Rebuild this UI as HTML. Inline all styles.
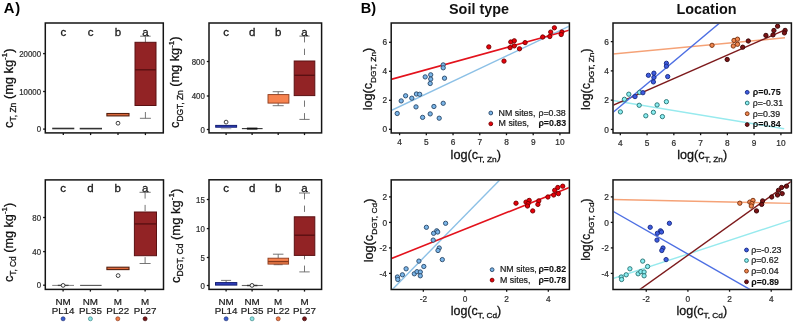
<!DOCTYPE html>
<html><head><meta charset="utf-8"><title>figure</title>
<style>
html,body{margin:0;padding:0;background:#fff;width:795px;height:323px;overflow:hidden;}
svg{display:block;will-change:transform;}
text{font-family:"Liberation Sans", sans-serif;}
</style></head><body>
<svg width="795" height="323" viewBox="0 0 795 323">
<rect width="795" height="323" fill="#fff"/>
<text transform="translate(3.77,12.8) scale(1.06,1)" font-size="14" font-weight="bold" fill="#000">A<tspan dx="0.75">)</tspan></text>
<text transform="translate(360.8,12.8) scale(1.04,1)" font-size="14" font-weight="bold" fill="#000">B)</text>
<line x1="52.2" y1="128.5" x2="74.3" y2="128.5" stroke="#333" stroke-width="1.6"/>
<line x1="79.7" y1="128.6" x2="102.0" y2="128.6" stroke="#333" stroke-width="1.6"/>
<rect x="106.9" y="113.5" width="22.10" height="2.40" fill="#e06a3c" stroke="#55200f" stroke-width="1.1"/>
<circle cx="118.0" cy="123.2" r="1.9" fill="#fff" stroke="#333" stroke-width="0.95"/>
<line x1="145.4" y1="36.2" x2="145.4" y2="42.3" stroke="#666" stroke-width="0.9" stroke-dasharray="6.3,6.3"/>
<line x1="140.15" y1="36.2" x2="150.65" y2="36.2" stroke="#666" stroke-width="0.9"/>
<line x1="145.4" y1="118.3" x2="145.4" y2="105.5" stroke="#666" stroke-width="0.9" stroke-dasharray="6.3,6.3"/>
<line x1="139.90" y1="118.3" x2="150.90" y2="118.3" stroke="#666" stroke-width="0.9"/>
<rect x="135.0" y="42.3" width="21.00" height="63.20" fill="#922325" stroke="#5a1012" stroke-width="1.0"/>
<line x1="135.0" y1="69.8" x2="156.0" y2="69.8" stroke="#5a1012" stroke-width="1.4"/>
<rect x="45.3" y="23.0" width="118.00" height="109.90" fill="none" stroke="#141414" stroke-width="1.5"/>
<line x1="43.10" y1="129.1" x2="45.3" y2="129.1" stroke="#141414" stroke-width="1.3"/>
<text transform="translate(41.10,132.20) scale(0.95,1)" font-size="8.3" fill="#2e2e2e" stroke="#2e2e2e" stroke-width="0.22" text-anchor="end">0</text>
<line x1="43.10" y1="91.5" x2="45.3" y2="91.5" stroke="#141414" stroke-width="1.3"/>
<text transform="translate(41.10,94.60) scale(0.95,1)" font-size="8.3" fill="#2e2e2e" stroke="#2e2e2e" stroke-width="0.22" text-anchor="end">10000</text>
<line x1="43.10" y1="53.6" x2="45.3" y2="53.6" stroke="#141414" stroke-width="1.3"/>
<text transform="translate(41.10,56.70) scale(0.95,1)" font-size="8.3" fill="#2e2e2e" stroke="#2e2e2e" stroke-width="0.22" text-anchor="end">20000</text>
<line x1="63.3" y1="132.9" x2="63.3" y2="135.10" stroke="#141414" stroke-width="1.3"/>
<line x1="90.6" y1="132.9" x2="90.6" y2="135.10" stroke="#141414" stroke-width="1.3"/>
<line x1="118.0" y1="132.9" x2="118.0" y2="135.10" stroke="#141414" stroke-width="1.3"/>
<line x1="145.4" y1="132.9" x2="145.4" y2="135.10" stroke="#141414" stroke-width="1.3"/>
<text x="63.3" y="36.0" font-size="11.5" fill="#1a1a1a" stroke="#1a1a1a" stroke-width="0.3" text-anchor="middle">c</text>
<text x="90.6" y="36.0" font-size="11.5" fill="#1a1a1a" stroke="#1a1a1a" stroke-width="0.3" text-anchor="middle">c</text>
<text x="118.0" y="36.0" font-size="11.5" fill="#1a1a1a" stroke="#1a1a1a" stroke-width="0.3" text-anchor="middle">b</text>
<text x="145.4" y="36.0" font-size="11.5" fill="#1a1a1a" stroke="#1a1a1a" stroke-width="0.3" text-anchor="middle">a</text>
<text transform="translate(12.60,127.90) rotate(-90) scale(0.9880,1)" x="0" y="0" font-size="13" fill="#111" stroke="#111" stroke-width="0.28" text-anchor="start"><tspan>c</tspan><tspan dy="3.64" font-size="8.58">T, Zn</tspan><tspan dy="-3.64"> (mg kg</tspan><tspan dy="-5.20" font-size="8.06">-1</tspan><tspan dy="5.20">)</tspan></text>
<rect x="215.7" y="125.4" width="20.90" height="1.80" fill="#3040bf" stroke="#121d72" stroke-width="1.0"/>
<line x1="220.8" y1="128.7" x2="231.3" y2="128.7" stroke="#9a9aa8" stroke-width="0.8"/>
<circle cx="226.1" cy="122.1" r="1.9" fill="#fff" stroke="#333" stroke-width="0.95"/>
<line x1="241.9" y1="128.6" x2="262.6" y2="128.6" stroke="#333" stroke-width="1.1"/>
<line x1="246.9" y1="128.6" x2="257.4" y2="128.6" stroke="#111" stroke-width="2.0"/>
<line x1="278.2" y1="91.7" x2="278.2" y2="94.6" stroke="#666" stroke-width="0.9" stroke-dasharray="6.3,6.3"/>
<line x1="272.70" y1="91.7" x2="283.70" y2="91.7" stroke="#666" stroke-width="0.9"/>
<line x1="278.2" y1="105.7" x2="278.2" y2="103.1" stroke="#666" stroke-width="0.9" stroke-dasharray="6.3,6.3"/>
<line x1="272.70" y1="105.7" x2="283.70" y2="105.7" stroke="#666" stroke-width="0.9"/>
<rect x="268.0" y="94.6" width="20.90" height="8.50" fill="#f7834f" stroke="#8a3a1c" stroke-width="0.9"/>
<line x1="304.5" y1="36.1" x2="304.5" y2="60.8" stroke="#666" stroke-width="0.9" stroke-dasharray="6.3,6.3"/>
<line x1="299.40" y1="36.1" x2="309.60" y2="36.1" stroke="#666" stroke-width="0.9"/>
<line x1="304.5" y1="119.4" x2="304.5" y2="95.6" stroke="#666" stroke-width="0.9" stroke-dasharray="6.3,6.3"/>
<line x1="299.40" y1="119.4" x2="309.60" y2="119.4" stroke="#666" stroke-width="0.9"/>
<rect x="294.2" y="61.0" width="20.60" height="34.60" fill="#922325" stroke="#5a1012" stroke-width="1.0"/>
<line x1="294.2" y1="75.3" x2="314.8" y2="75.3" stroke="#5a1012" stroke-width="1.4"/>
<rect x="209.0" y="23.0" width="112.60" height="109.90" fill="none" stroke="#141414" stroke-width="1.5"/>
<line x1="206.80" y1="129.5" x2="209.0" y2="129.5" stroke="#141414" stroke-width="1.3"/>
<text transform="translate(204.80,132.60) scale(0.95,1)" font-size="8.3" fill="#2e2e2e" stroke="#2e2e2e" stroke-width="0.22" text-anchor="end">0</text>
<line x1="206.80" y1="96.0" x2="209.0" y2="96.0" stroke="#141414" stroke-width="1.3"/>
<text transform="translate(204.80,99.10) scale(0.95,1)" font-size="8.3" fill="#2e2e2e" stroke="#2e2e2e" stroke-width="0.22" text-anchor="end">400</text>
<line x1="206.80" y1="61.5" x2="209.0" y2="61.5" stroke="#141414" stroke-width="1.3"/>
<text transform="translate(204.80,64.60) scale(0.95,1)" font-size="8.3" fill="#2e2e2e" stroke="#2e2e2e" stroke-width="0.22" text-anchor="end">800</text>
<line x1="226.1" y1="132.9" x2="226.1" y2="135.10" stroke="#141414" stroke-width="1.3"/>
<line x1="252.1" y1="132.9" x2="252.1" y2="135.10" stroke="#141414" stroke-width="1.3"/>
<line x1="278.2" y1="132.9" x2="278.2" y2="135.10" stroke="#141414" stroke-width="1.3"/>
<line x1="304.5" y1="132.9" x2="304.5" y2="135.10" stroke="#141414" stroke-width="1.3"/>
<text x="226.1" y="36.0" font-size="11.5" fill="#1a1a1a" stroke="#1a1a1a" stroke-width="0.3" text-anchor="middle">c</text>
<text x="252.1" y="36.0" font-size="11.5" fill="#1a1a1a" stroke="#1a1a1a" stroke-width="0.3" text-anchor="middle">d</text>
<text x="278.2" y="36.0" font-size="11.5" fill="#1a1a1a" stroke="#1a1a1a" stroke-width="0.3" text-anchor="middle">b</text>
<text x="304.5" y="36.0" font-size="11.5" fill="#1a1a1a" stroke="#1a1a1a" stroke-width="0.3" text-anchor="middle">a</text>
<text transform="translate(179.00,127.90) rotate(-90) scale(0.9790,1)" x="0" y="0" font-size="13" fill="#111" stroke="#111" stroke-width="0.28" text-anchor="start"><tspan>c</tspan><tspan dy="3.64" font-size="8.58">DGT, Zn</tspan><tspan dy="-3.64"> (mg kg</tspan><tspan dy="-5.20" font-size="8.06">-1</tspan><tspan dy="5.20">)</tspan></text>
<line x1="52.2" y1="285.4" x2="74.0" y2="285.4" stroke="#808080" stroke-width="1.0"/>
<line x1="57.8" y1="285.4" x2="68.6" y2="285.4" stroke="#444" stroke-width="1.3"/>
<circle cx="63.1" cy="285.4" r="1.9" fill="#fff" stroke="#333" stroke-width="0.95"/>
<line x1="80.1" y1="285.4" x2="101.6" y2="285.4" stroke="#555" stroke-width="1.1"/>
<rect x="106.9" y="267.2" width="22.10" height="2.40" fill="#e06a3c" stroke="#55200f" stroke-width="1.1"/>
<circle cx="118.1" cy="275.6" r="1.9" fill="#fff" stroke="#333" stroke-width="0.95"/>
<line x1="145.1" y1="192.3" x2="145.1" y2="212.0" stroke="#666" stroke-width="0.9" stroke-dasharray="6.3,6.3"/>
<line x1="139.50" y1="192.3" x2="150.70" y2="192.3" stroke="#666" stroke-width="0.9"/>
<line x1="145.1" y1="263.5" x2="145.1" y2="255.7" stroke="#666" stroke-width="0.9" stroke-dasharray="6.3,6.3"/>
<line x1="139.60" y1="263.5" x2="150.60" y2="263.5" stroke="#666" stroke-width="0.9"/>
<rect x="134.4" y="212.0" width="22.10" height="43.70" fill="#922325" stroke="#5a1012" stroke-width="1.0"/>
<line x1="134.4" y1="223.9" x2="156.5" y2="223.9" stroke="#5a1012" stroke-width="1.4"/>
<rect x="45.3" y="179.9" width="118.20" height="109.50" fill="none" stroke="#141414" stroke-width="1.5"/>
<line x1="43.10" y1="285.2" x2="45.3" y2="285.2" stroke="#141414" stroke-width="1.3"/>
<text transform="translate(41.10,288.30) scale(0.95,1)" font-size="8.3" fill="#2e2e2e" stroke="#2e2e2e" stroke-width="0.22" text-anchor="end">0</text>
<line x1="43.10" y1="251.6" x2="45.3" y2="251.6" stroke="#141414" stroke-width="1.3"/>
<text transform="translate(41.10,254.70) scale(0.95,1)" font-size="8.3" fill="#2e2e2e" stroke="#2e2e2e" stroke-width="0.22" text-anchor="end">40</text>
<line x1="43.10" y1="217.5" x2="45.3" y2="217.5" stroke="#141414" stroke-width="1.3"/>
<text transform="translate(41.10,220.60) scale(0.95,1)" font-size="8.3" fill="#2e2e2e" stroke="#2e2e2e" stroke-width="0.22" text-anchor="end">80</text>
<line x1="63.1" y1="289.4" x2="63.1" y2="291.60" stroke="#141414" stroke-width="1.3"/>
<line x1="90.4" y1="289.4" x2="90.4" y2="291.60" stroke="#141414" stroke-width="1.3"/>
<line x1="117.8" y1="289.4" x2="117.8" y2="291.60" stroke="#141414" stroke-width="1.3"/>
<line x1="145.1" y1="289.4" x2="145.1" y2="291.60" stroke="#141414" stroke-width="1.3"/>
<text x="63.1" y="192.3" font-size="11.5" fill="#1a1a1a" stroke="#1a1a1a" stroke-width="0.3" text-anchor="middle">c</text>
<text x="90.4" y="192.3" font-size="11.5" fill="#1a1a1a" stroke="#1a1a1a" stroke-width="0.3" text-anchor="middle">d</text>
<text x="117.8" y="192.3" font-size="11.5" fill="#1a1a1a" stroke="#1a1a1a" stroke-width="0.3" text-anchor="middle">b</text>
<text x="145.1" y="192.3" font-size="11.5" fill="#1a1a1a" stroke="#1a1a1a" stroke-width="0.3" text-anchor="middle">a</text>
<text transform="translate(12.50,282.10) rotate(-90) scale(0.9740,1)" x="0" y="0" font-size="13" fill="#111" stroke="#111" stroke-width="0.28" text-anchor="start"><tspan>c</tspan><tspan dy="3.64" font-size="8.58">T, Cd</tspan><tspan dy="-3.64"> (mg kg</tspan><tspan dy="-5.20" font-size="8.06">-1</tspan><tspan dy="5.20">)</tspan></text>
<line x1="226.1" y1="280.4" x2="226.1" y2="282.5" stroke="#666" stroke-width="0.9" stroke-dasharray="6.3,6.3"/>
<line x1="221.10" y1="280.4" x2="231.10" y2="280.4" stroke="#666" stroke-width="0.9"/>
<rect x="215.5" y="282.6" width="21.30" height="2.50" fill="#3040bf" stroke="#121d72" stroke-width="1.0"/>
<line x1="241.8" y1="285.5" x2="262.8" y2="285.5" stroke="#666" stroke-width="1.1"/>
<line x1="246.9" y1="285.5" x2="257.4" y2="285.5" stroke="#333" stroke-width="1.4"/>
<circle cx="252.0" cy="285.4" r="1.9" fill="#fff" stroke="#333" stroke-width="0.95"/>
<line x1="278.2" y1="254.2" x2="278.2" y2="258.2" stroke="#666" stroke-width="0.9" stroke-dasharray="6.3,6.3"/>
<line x1="272.95" y1="254.2" x2="283.45" y2="254.2" stroke="#666" stroke-width="0.9"/>
<line x1="278.2" y1="264.7" x2="278.2" y2="264.1" stroke="#666" stroke-width="0.9" stroke-dasharray="6.3,6.3"/>
<line x1="273.70" y1="264.7" x2="282.70" y2="264.7" stroke="#666" stroke-width="0.9"/>
<rect x="268.0" y="258.2" width="20.60" height="5.90" fill="#f7834f" stroke="#8a3a1c" stroke-width="0.9"/>
<line x1="268.0" y1="261.6" x2="288.6" y2="261.6" stroke="#8a3a1c" stroke-width="1.4"/>
<line x1="304.5" y1="193.0" x2="304.5" y2="216.8" stroke="#666" stroke-width="0.9" stroke-dasharray="6.3,6.3"/>
<line x1="299.00" y1="193.0" x2="310.00" y2="193.0" stroke="#666" stroke-width="0.9"/>
<line x1="304.5" y1="271.9" x2="304.5" y2="255.4" stroke="#666" stroke-width="0.9" stroke-dasharray="6.3,6.3"/>
<line x1="299.30" y1="271.9" x2="309.70" y2="271.9" stroke="#666" stroke-width="0.9"/>
<rect x="294.3" y="216.8" width="20.50" height="38.60" fill="#922325" stroke="#5a1012" stroke-width="1.0"/>
<line x1="294.3" y1="235.2" x2="314.8" y2="235.2" stroke="#5a1012" stroke-width="1.4"/>
<rect x="209.0" y="179.8" width="112.60" height="109.60" fill="none" stroke="#141414" stroke-width="1.5"/>
<line x1="206.80" y1="285.5" x2="209.0" y2="285.5" stroke="#141414" stroke-width="1.3"/>
<text transform="translate(204.80,288.60) scale(0.95,1)" font-size="8.3" fill="#2e2e2e" stroke="#2e2e2e" stroke-width="0.22" text-anchor="end">0</text>
<line x1="206.80" y1="257.5" x2="209.0" y2="257.5" stroke="#141414" stroke-width="1.3"/>
<text transform="translate(204.80,260.60) scale(0.95,1)" font-size="8.3" fill="#2e2e2e" stroke="#2e2e2e" stroke-width="0.22" text-anchor="end">5</text>
<line x1="206.80" y1="228.6" x2="209.0" y2="228.6" stroke="#141414" stroke-width="1.3"/>
<text transform="translate(204.80,231.70) scale(0.95,1)" font-size="8.3" fill="#2e2e2e" stroke="#2e2e2e" stroke-width="0.22" text-anchor="end">10</text>
<line x1="206.80" y1="199.5" x2="209.0" y2="199.5" stroke="#141414" stroke-width="1.3"/>
<text transform="translate(204.80,202.60) scale(0.95,1)" font-size="8.3" fill="#2e2e2e" stroke="#2e2e2e" stroke-width="0.22" text-anchor="end">15</text>
<line x1="226.1" y1="289.4" x2="226.1" y2="291.60" stroke="#141414" stroke-width="1.3"/>
<line x1="252.1" y1="289.4" x2="252.1" y2="291.60" stroke="#141414" stroke-width="1.3"/>
<line x1="278.2" y1="289.4" x2="278.2" y2="291.60" stroke="#141414" stroke-width="1.3"/>
<line x1="304.5" y1="289.4" x2="304.5" y2="291.60" stroke="#141414" stroke-width="1.3"/>
<text x="226.1" y="192.3" font-size="11.5" fill="#1a1a1a" stroke="#1a1a1a" stroke-width="0.3" text-anchor="middle">c</text>
<text x="252.1" y="192.3" font-size="11.5" fill="#1a1a1a" stroke="#1a1a1a" stroke-width="0.3" text-anchor="middle">d</text>
<text x="278.2" y="192.3" font-size="11.5" fill="#1a1a1a" stroke="#1a1a1a" stroke-width="0.3" text-anchor="middle">b</text>
<text x="304.5" y="192.3" font-size="11.5" fill="#1a1a1a" stroke="#1a1a1a" stroke-width="0.3" text-anchor="middle">a</text>
<text transform="translate(179.50,283.00) rotate(-90) scale(1.0010,1)" x="0" y="0" font-size="13" fill="#111" stroke="#111" stroke-width="0.28" text-anchor="start"><tspan>c</tspan><tspan dy="3.64" font-size="8.58">DGT, Cd</tspan><tspan dy="-3.64"> (mg kg</tspan><tspan dy="-5.20" font-size="8.06">-1</tspan><tspan dy="5.20">)</tspan></text>
<text x="63.1" y="305.2" font-size="9.8" fill="#1a1a1a" stroke="#1a1a1a" stroke-width="0.2" text-anchor="middle">NM</text>
<text x="63.1" y="314.2" font-size="9.8" fill="#1a1a1a" stroke="#1a1a1a" stroke-width="0.2" text-anchor="middle">PL14</text>
<circle cx="63.1" cy="318.8" r="2.0" fill="#3a5fd0" stroke="#22347a" stroke-width="0.7"/>
<text x="90.4" y="305.2" font-size="9.8" fill="#1a1a1a" stroke="#1a1a1a" stroke-width="0.2" text-anchor="middle">NM</text>
<text x="90.4" y="314.2" font-size="9.8" fill="#1a1a1a" stroke="#1a1a1a" stroke-width="0.2" text-anchor="middle">PL35</text>
<circle cx="90.4" cy="318.8" r="2.0" fill="#8fe3e3" stroke="#3a8a8a" stroke-width="0.7"/>
<text x="117.8" y="305.2" font-size="9.8" fill="#1a1a1a" stroke="#1a1a1a" stroke-width="0.2" text-anchor="middle">M</text>
<text x="117.8" y="314.2" font-size="9.8" fill="#1a1a1a" stroke="#1a1a1a" stroke-width="0.2" text-anchor="middle">PL22</text>
<circle cx="117.8" cy="318.8" r="2.0" fill="#ef7a45" stroke="#8a3a1c" stroke-width="0.7"/>
<text x="145.1" y="305.2" font-size="9.8" fill="#1a1a1a" stroke="#1a1a1a" stroke-width="0.2" text-anchor="middle">M</text>
<text x="145.1" y="314.2" font-size="9.8" fill="#1a1a1a" stroke="#1a1a1a" stroke-width="0.2" text-anchor="middle">PL27</text>
<circle cx="145.1" cy="318.8" r="2.0" fill="#7a1518" stroke="#3a0808" stroke-width="0.7"/>
<text x="226.1" y="305.2" font-size="9.8" fill="#1a1a1a" stroke="#1a1a1a" stroke-width="0.2" text-anchor="middle">NM</text>
<text x="226.1" y="314.2" font-size="9.8" fill="#1a1a1a" stroke="#1a1a1a" stroke-width="0.2" text-anchor="middle">PL14</text>
<circle cx="226.1" cy="318.8" r="2.0" fill="#3a5fd0" stroke="#22347a" stroke-width="0.7"/>
<text x="252.1" y="305.2" font-size="9.8" fill="#1a1a1a" stroke="#1a1a1a" stroke-width="0.2" text-anchor="middle">NM</text>
<text x="252.1" y="314.2" font-size="9.8" fill="#1a1a1a" stroke="#1a1a1a" stroke-width="0.2" text-anchor="middle">PL35</text>
<circle cx="252.1" cy="318.8" r="2.0" fill="#8fe3e3" stroke="#3a8a8a" stroke-width="0.7"/>
<text x="278.2" y="305.2" font-size="9.8" fill="#1a1a1a" stroke="#1a1a1a" stroke-width="0.2" text-anchor="middle">M</text>
<text x="278.2" y="314.2" font-size="9.8" fill="#1a1a1a" stroke="#1a1a1a" stroke-width="0.2" text-anchor="middle">PL22</text>
<circle cx="278.2" cy="318.8" r="2.0" fill="#ef7a45" stroke="#8a3a1c" stroke-width="0.7"/>
<text x="304.5" y="305.2" font-size="9.8" fill="#1a1a1a" stroke="#1a1a1a" stroke-width="0.2" text-anchor="middle">M</text>
<text x="304.5" y="314.2" font-size="9.8" fill="#1a1a1a" stroke="#1a1a1a" stroke-width="0.2" text-anchor="middle">PL27</text>
<circle cx="304.5" cy="318.8" r="2.0" fill="#7a1518" stroke="#3a0808" stroke-width="0.7"/>
<text x="449" y="13.6" font-size="14.4" font-weight="bold" fill="#111">Soil type</text>
<text x="676.5" y="13.6" font-size="14.4" font-weight="bold" fill="#111">Location</text>
<clipPath id="cB1"><rect x="391.90" y="23.70" width="176.80" height="108.60"/></clipPath>
<g clip-path="url(#cB1)">
<line x1="391.10" y1="110.50" x2="570.00" y2="25.80" stroke="#8cc0e6" stroke-width="1.4"/>
<line x1="391.10" y1="79.40" x2="570.00" y2="30.00" stroke="#e3121c" stroke-width="1.6"/>
<circle cx="397.20" cy="113.50" r="2.15" fill="#7ab5e8" stroke="#2e4d6e" stroke-width="0.95"/>
<circle cx="401.20" cy="100.90" r="2.15" fill="#7ab5e8" stroke="#2e4d6e" stroke-width="0.95"/>
<circle cx="405.60" cy="95.80" r="2.15" fill="#7ab5e8" stroke="#2e4d6e" stroke-width="0.95"/>
<circle cx="411.80" cy="98.20" r="2.15" fill="#7ab5e8" stroke="#2e4d6e" stroke-width="0.95"/>
<circle cx="416.40" cy="94.00" r="2.15" fill="#7ab5e8" stroke="#2e4d6e" stroke-width="0.95"/>
<circle cx="419.70" cy="94.30" r="2.15" fill="#7ab5e8" stroke="#2e4d6e" stroke-width="0.95"/>
<circle cx="416.00" cy="106.90" r="2.15" fill="#7ab5e8" stroke="#2e4d6e" stroke-width="0.95"/>
<circle cx="422.60" cy="117.40" r="2.15" fill="#7ab5e8" stroke="#2e4d6e" stroke-width="0.95"/>
<circle cx="425.20" cy="76.90" r="2.15" fill="#7ab5e8" stroke="#2e4d6e" stroke-width="0.95"/>
<circle cx="430.70" cy="74.80" r="2.15" fill="#7ab5e8" stroke="#2e4d6e" stroke-width="0.95"/>
<circle cx="430.70" cy="79.10" r="2.15" fill="#7ab5e8" stroke="#2e4d6e" stroke-width="0.95"/>
<circle cx="430.20" cy="83.50" r="2.15" fill="#7ab5e8" stroke="#2e4d6e" stroke-width="0.95"/>
<circle cx="430.20" cy="113.90" r="2.15" fill="#7ab5e8" stroke="#2e4d6e" stroke-width="0.95"/>
<circle cx="433.90" cy="106.50" r="2.15" fill="#7ab5e8" stroke="#2e4d6e" stroke-width="0.95"/>
<circle cx="439.20" cy="118.20" r="2.15" fill="#7ab5e8" stroke="#2e4d6e" stroke-width="0.95"/>
<circle cx="443.20" cy="103.30" r="2.15" fill="#7ab5e8" stroke="#2e4d6e" stroke-width="0.95"/>
<circle cx="443.20" cy="64.90" r="2.15" fill="#7ab5e8" stroke="#2e4d6e" stroke-width="0.95"/>
<circle cx="443.20" cy="67.80" r="2.15" fill="#7ab5e8" stroke="#2e4d6e" stroke-width="0.95"/>
<circle cx="444.50" cy="78.20" r="2.15" fill="#7ab5e8" stroke="#2e4d6e" stroke-width="0.95"/>
<circle cx="488.80" cy="46.90" r="2.15" fill="#e8000a" stroke="#7a0000" stroke-width="0.95"/>
<circle cx="510.80" cy="42.00" r="2.15" fill="#e8000a" stroke="#7a0000" stroke-width="0.95"/>
<circle cx="514.30" cy="40.80" r="2.15" fill="#e8000a" stroke="#7a0000" stroke-width="0.95"/>
<circle cx="510.10" cy="47.60" r="2.15" fill="#e8000a" stroke="#7a0000" stroke-width="0.95"/>
<circle cx="514.30" cy="45.90" r="2.15" fill="#e8000a" stroke="#7a0000" stroke-width="0.95"/>
<circle cx="504.00" cy="61.10" r="2.15" fill="#e8000a" stroke="#7a0000" stroke-width="0.95"/>
<circle cx="519.50" cy="48.80" r="2.15" fill="#e8000a" stroke="#7a0000" stroke-width="0.95"/>
<circle cx="525.10" cy="42.60" r="2.15" fill="#e8000a" stroke="#7a0000" stroke-width="0.95"/>
<circle cx="542.70" cy="37.00" r="2.15" fill="#e8000a" stroke="#7a0000" stroke-width="0.95"/>
<circle cx="549.80" cy="36.50" r="2.15" fill="#e8000a" stroke="#7a0000" stroke-width="0.95"/>
<circle cx="550.70" cy="32.10" r="2.15" fill="#e8000a" stroke="#7a0000" stroke-width="0.95"/>
<circle cx="554.40" cy="27.80" r="2.15" fill="#e8000a" stroke="#7a0000" stroke-width="0.95"/>
<circle cx="561.90" cy="32.00" r="2.15" fill="#e8000a" stroke="#7a0000" stroke-width="0.95"/>
<circle cx="561.20" cy="34.50" r="2.15" fill="#e8000a" stroke="#7a0000" stroke-width="0.95"/>
</g>
<rect x="391.2" y="23.0" width="178.20" height="110.00" fill="none" stroke="#141414" stroke-width="1.5"/>
<line x1="399.6" y1="133.0" x2="399.6" y2="135.20" stroke="#141414" stroke-width="1.3"/>
<text x="399.60" y="145.20" font-size="8.3" fill="#2e2e2e" stroke="#2e2e2e" stroke-width="0.22" text-anchor="middle">4</text>
<line x1="426.32000000000005" y1="133.0" x2="426.32000000000005" y2="135.20" stroke="#141414" stroke-width="1.3"/>
<text x="426.32" y="145.20" font-size="8.3" fill="#2e2e2e" stroke="#2e2e2e" stroke-width="0.22" text-anchor="middle">5</text>
<line x1="453.04" y1="133.0" x2="453.04" y2="135.20" stroke="#141414" stroke-width="1.3"/>
<text x="453.04" y="145.20" font-size="8.3" fill="#2e2e2e" stroke="#2e2e2e" stroke-width="0.22" text-anchor="middle">6</text>
<line x1="479.76" y1="133.0" x2="479.76" y2="135.20" stroke="#141414" stroke-width="1.3"/>
<text x="479.76" y="145.20" font-size="8.3" fill="#2e2e2e" stroke="#2e2e2e" stroke-width="0.22" text-anchor="middle">7</text>
<line x1="506.48" y1="133.0" x2="506.48" y2="135.20" stroke="#141414" stroke-width="1.3"/>
<text x="506.48" y="145.20" font-size="8.3" fill="#2e2e2e" stroke="#2e2e2e" stroke-width="0.22" text-anchor="middle">8</text>
<line x1="533.2" y1="133.0" x2="533.2" y2="135.20" stroke="#141414" stroke-width="1.3"/>
<text x="533.20" y="145.20" font-size="8.3" fill="#2e2e2e" stroke="#2e2e2e" stroke-width="0.22" text-anchor="middle">9</text>
<line x1="559.9200000000001" y1="133.0" x2="559.9200000000001" y2="135.20" stroke="#141414" stroke-width="1.3"/>
<text x="559.92" y="145.20" font-size="8.3" fill="#2e2e2e" stroke="#2e2e2e" stroke-width="0.22" text-anchor="middle">10</text>
<line x1="389.00" y1="129.3" x2="391.2" y2="129.3" stroke="#141414" stroke-width="1.3"/>
<text transform="translate(387.00,132.40) scale(1.0,1)" font-size="8.3" fill="#2e2e2e" stroke="#2e2e2e" stroke-width="0.22" text-anchor="end">0</text>
<line x1="389.00" y1="100.30000000000001" x2="391.2" y2="100.30000000000001" stroke="#141414" stroke-width="1.3"/>
<text transform="translate(387.00,103.40) scale(1.0,1)" font-size="8.3" fill="#2e2e2e" stroke="#2e2e2e" stroke-width="0.22" text-anchor="end">2</text>
<line x1="389.00" y1="71.30000000000001" x2="391.2" y2="71.30000000000001" stroke="#141414" stroke-width="1.3"/>
<text transform="translate(387.00,74.40) scale(1.0,1)" font-size="8.3" fill="#2e2e2e" stroke="#2e2e2e" stroke-width="0.22" text-anchor="end">4</text>
<line x1="389.00" y1="42.30000000000001" x2="391.2" y2="42.30000000000001" stroke="#141414" stroke-width="1.3"/>
<text transform="translate(387.00,45.40) scale(1.0,1)" font-size="8.3" fill="#2e2e2e" stroke="#2e2e2e" stroke-width="0.22" text-anchor="end">6</text>
<text transform="translate(450.60,158.90) scale(1.0580,1)" font-size="12" fill="#111" stroke="#111" stroke-width="0.28" text-anchor="start"><tspan>log(c</tspan><tspan dy="3.36" font-size="7.92">T, Zn</tspan><tspan dy="-3.36">)</tspan></text>
<text transform="translate(372.40,110.30) rotate(-90) scale(1.0530,1)" x="0" y="0" font-size="12" fill="#111" stroke="#111" stroke-width="0.28" text-anchor="start"><tspan>log(c</tspan><tspan dy="3.36" font-size="7.92">DGT, Zn</tspan><tspan dy="-3.36">)</tspan></text>
<circle cx="490.80" cy="113.00" r="1.9" fill="#7ab5e8" stroke="#2e4d6e" stroke-width="0.95"/>
<circle cx="490.80" cy="123.80" r="1.9" fill="#e8000a" stroke="#7a0000" stroke-width="0.95"/>
<text transform="translate(498.60,115.60) scale(1.04,1)" font-size="8.5" fill="#222" stroke="#222" stroke-width="0.22">NM sites,</text>
<text transform="translate(538.40,115.60) scale(1.04,1)" font-size="8.5" fill="#222" stroke="#222" stroke-width="0.22">ρ=0.38</text>
<text transform="translate(498.60,126.20) scale(1.04,1)" font-size="8.5" fill="#222" stroke="#222" stroke-width="0.22">M sites,</text>
<text transform="translate(538.40,126.20) scale(1.04,1)" font-size="8.5" font-weight="bold" fill="#111" stroke="#111" stroke-width="0.1">ρ=0.83</text>
<clipPath id="cB2"><rect x="613.70" y="23.70" width="177.00" height="108.60"/></clipPath>
<g clip-path="url(#cB2)">
<line x1="612.90" y1="100.50" x2="784.20" y2="128.80" stroke="#97eaee" stroke-width="1.4"/>
<line x1="612.90" y1="54.00" x2="785.00" y2="37.80" stroke="#f5a277" stroke-width="1.4"/>
<line x1="612.90" y1="105.30" x2="785.00" y2="29.90" stroke="#7d1a1c" stroke-width="1.4"/>
<line x1="612.90" y1="112.50" x2="721.50" y2="21.40" stroke="#4d6fe3" stroke-width="1.4"/>
<circle cx="620.40" cy="111.90" r="2.15" fill="#8aeef2" stroke="#2a7575" stroke-width="0.95"/>
<circle cx="624.40" cy="99.30" r="2.15" fill="#8aeef2" stroke="#2a7575" stroke-width="0.95"/>
<circle cx="628.80" cy="94.20" r="2.15" fill="#8aeef2" stroke="#2a7575" stroke-width="0.95"/>
<circle cx="639.60" cy="92.40" r="2.15" fill="#8aeef2" stroke="#2a7575" stroke-width="0.95"/>
<circle cx="639.20" cy="105.30" r="2.15" fill="#8aeef2" stroke="#2a7575" stroke-width="0.95"/>
<circle cx="645.80" cy="115.80" r="2.15" fill="#8aeef2" stroke="#2a7575" stroke-width="0.95"/>
<circle cx="653.40" cy="112.30" r="2.15" fill="#8aeef2" stroke="#2a7575" stroke-width="0.95"/>
<circle cx="657.10" cy="104.90" r="2.15" fill="#8aeef2" stroke="#2a7575" stroke-width="0.95"/>
<circle cx="662.40" cy="116.60" r="2.15" fill="#8aeef2" stroke="#2a7575" stroke-width="0.95"/>
<circle cx="666.40" cy="101.70" r="2.15" fill="#8aeef2" stroke="#2a7575" stroke-width="0.95"/>
<circle cx="635.00" cy="96.60" r="2.15" fill="#3d5ce0" stroke="#1a2c85" stroke-width="0.95"/>
<circle cx="642.90" cy="92.70" r="2.15" fill="#3d5ce0" stroke="#1a2c85" stroke-width="0.95"/>
<circle cx="648.40" cy="75.30" r="2.15" fill="#3d5ce0" stroke="#1a2c85" stroke-width="0.95"/>
<circle cx="653.90" cy="73.20" r="2.15" fill="#3d5ce0" stroke="#1a2c85" stroke-width="0.95"/>
<circle cx="653.90" cy="77.50" r="2.15" fill="#3d5ce0" stroke="#1a2c85" stroke-width="0.95"/>
<circle cx="653.40" cy="81.90" r="2.15" fill="#3d5ce0" stroke="#1a2c85" stroke-width="0.95"/>
<circle cx="666.40" cy="63.30" r="2.15" fill="#3d5ce0" stroke="#1a2c85" stroke-width="0.95"/>
<circle cx="666.40" cy="66.20" r="2.15" fill="#3d5ce0" stroke="#1a2c85" stroke-width="0.95"/>
<circle cx="667.70" cy="76.60" r="2.15" fill="#3d5ce0" stroke="#1a2c85" stroke-width="0.95"/>
<circle cx="712.00" cy="45.30" r="2.15" fill="#f0874f" stroke="#7a3412" stroke-width="0.95"/>
<circle cx="734.00" cy="40.40" r="2.15" fill="#f0874f" stroke="#7a3412" stroke-width="0.95"/>
<circle cx="737.50" cy="39.20" r="2.15" fill="#f0874f" stroke="#7a3412" stroke-width="0.95"/>
<circle cx="733.30" cy="46.00" r="2.15" fill="#f0874f" stroke="#7a3412" stroke-width="0.95"/>
<circle cx="737.50" cy="44.30" r="2.15" fill="#f0874f" stroke="#7a3412" stroke-width="0.95"/>
<circle cx="727.20" cy="59.50" r="2.15" fill="#7c1416" stroke="#3a0606" stroke-width="0.95"/>
<circle cx="742.70" cy="47.20" r="2.15" fill="#7c1416" stroke="#3a0606" stroke-width="0.95"/>
<circle cx="748.30" cy="41.00" r="2.15" fill="#7c1416" stroke="#3a0606" stroke-width="0.95"/>
<circle cx="765.90" cy="35.40" r="2.15" fill="#7c1416" stroke="#3a0606" stroke-width="0.95"/>
<circle cx="773.00" cy="34.90" r="2.15" fill="#7c1416" stroke="#3a0606" stroke-width="0.95"/>
<circle cx="773.90" cy="30.50" r="2.15" fill="#7c1416" stroke="#3a0606" stroke-width="0.95"/>
<circle cx="777.60" cy="26.20" r="2.15" fill="#7c1416" stroke="#3a0606" stroke-width="0.95"/>
<circle cx="785.10" cy="30.40" r="2.15" fill="#7c1416" stroke="#3a0606" stroke-width="0.95"/>
<circle cx="784.40" cy="32.90" r="2.15" fill="#7c1416" stroke="#3a0606" stroke-width="0.95"/>
</g>
<rect x="613.0" y="23.0" width="178.40" height="110.00" fill="none" stroke="#141414" stroke-width="1.5"/>
<line x1="620.3" y1="133.0" x2="620.3" y2="135.20" stroke="#141414" stroke-width="1.3"/>
<text x="620.30" y="145.60" font-size="8.3" fill="#2e2e2e" stroke="#2e2e2e" stroke-width="0.22" text-anchor="middle">4</text>
<line x1="647.0699999999999" y1="133.0" x2="647.0699999999999" y2="135.20" stroke="#141414" stroke-width="1.3"/>
<text x="647.07" y="145.60" font-size="8.3" fill="#2e2e2e" stroke="#2e2e2e" stroke-width="0.22" text-anchor="middle">5</text>
<line x1="673.8399999999999" y1="133.0" x2="673.8399999999999" y2="135.20" stroke="#141414" stroke-width="1.3"/>
<text x="673.84" y="145.60" font-size="8.3" fill="#2e2e2e" stroke="#2e2e2e" stroke-width="0.22" text-anchor="middle">6</text>
<line x1="700.6099999999999" y1="133.0" x2="700.6099999999999" y2="135.20" stroke="#141414" stroke-width="1.3"/>
<text x="700.61" y="145.60" font-size="8.3" fill="#2e2e2e" stroke="#2e2e2e" stroke-width="0.22" text-anchor="middle">7</text>
<line x1="727.38" y1="133.0" x2="727.38" y2="135.20" stroke="#141414" stroke-width="1.3"/>
<text x="727.38" y="145.60" font-size="8.3" fill="#2e2e2e" stroke="#2e2e2e" stroke-width="0.22" text-anchor="middle">8</text>
<line x1="754.15" y1="133.0" x2="754.15" y2="135.20" stroke="#141414" stroke-width="1.3"/>
<text x="754.15" y="145.60" font-size="8.3" fill="#2e2e2e" stroke="#2e2e2e" stroke-width="0.22" text-anchor="middle">9</text>
<line x1="780.92" y1="133.0" x2="780.92" y2="135.20" stroke="#141414" stroke-width="1.3"/>
<text x="780.92" y="145.60" font-size="8.3" fill="#2e2e2e" stroke="#2e2e2e" stroke-width="0.22" text-anchor="middle">10</text>
<line x1="610.80" y1="129.4" x2="613.0" y2="129.4" stroke="#141414" stroke-width="1.3"/>
<text transform="translate(608.80,132.50) scale(1.0,1)" font-size="8.3" fill="#2e2e2e" stroke="#2e2e2e" stroke-width="0.22" text-anchor="end">0</text>
<line x1="610.80" y1="100.14" x2="613.0" y2="100.14" stroke="#141414" stroke-width="1.3"/>
<text transform="translate(608.80,103.24) scale(1.0,1)" font-size="8.3" fill="#2e2e2e" stroke="#2e2e2e" stroke-width="0.22" text-anchor="end">2</text>
<line x1="610.80" y1="70.88" x2="613.0" y2="70.88" stroke="#141414" stroke-width="1.3"/>
<text transform="translate(608.80,73.98) scale(1.0,1)" font-size="8.3" fill="#2e2e2e" stroke="#2e2e2e" stroke-width="0.22" text-anchor="end">4</text>
<line x1="610.80" y1="41.620000000000005" x2="613.0" y2="41.620000000000005" stroke="#141414" stroke-width="1.3"/>
<text transform="translate(608.80,44.72) scale(1.0,1)" font-size="8.3" fill="#2e2e2e" stroke="#2e2e2e" stroke-width="0.22" text-anchor="end">6</text>
<text transform="translate(677.20,159.00) scale(1.0500,1)" font-size="12" fill="#111" stroke="#111" stroke-width="0.28" text-anchor="start"><tspan>log(c</tspan><tspan dy="3.36" font-size="7.92">T, Zn</tspan><tspan dy="-3.36">)</tspan></text>
<text transform="translate(590.20,110.00) rotate(-90) scale(1.0360,1)" x="0" y="0" font-size="12" fill="#111" stroke="#111" stroke-width="0.28" text-anchor="start"><tspan>log(c</tspan><tspan dy="3.36" font-size="7.92">DGT, Zn</tspan><tspan dy="-3.36">)</tspan></text>
<circle cx="747.20" cy="92.30" r="1.9" fill="#3d5ce0" stroke="#1a2c85" stroke-width="0.95"/>
<text transform="translate(752.80,95.10) scale(1.04,1)" font-size="8.5" font-weight="bold" fill="#111" stroke="#111" stroke-width="0.1">ρ=0.75</text>
<circle cx="747.20" cy="103.00" r="1.9" fill="#8aeef2" stroke="#2a7575" stroke-width="0.95"/>
<text transform="translate(752.80,105.80) scale(1.04,1)" font-size="8.5" fill="#222" stroke="#222" stroke-width="0.22">ρ=-0.31</text>
<circle cx="747.20" cy="113.70" r="1.9" fill="#f0874f" stroke="#7a3412" stroke-width="0.95"/>
<text transform="translate(752.80,116.50) scale(1.04,1)" font-size="8.5" fill="#222" stroke="#222" stroke-width="0.22">ρ=0.39</text>
<circle cx="747.20" cy="124.60" r="1.9" fill="#7c1416" stroke="#3a0606" stroke-width="0.95"/>
<text transform="translate(752.80,127.40) scale(1.04,1)" font-size="8.5" font-weight="bold" fill="#111" stroke="#111" stroke-width="0.1">ρ=0.84</text>
<clipPath id="cB3"><rect x="391.90" y="180.60" width="176.80" height="108.20"/></clipPath>
<g clip-path="url(#cB3)">
<line x1="370.00" y1="312.30" x2="510.00" y2="169.50" stroke="#8cc0e6" stroke-width="1.4"/>
<line x1="391.00" y1="258.70" x2="570.00" y2="187.30" stroke="#e3121c" stroke-width="1.6"/>
<circle cx="397.40" cy="277.00" r="2.15" fill="#7ab5e8" stroke="#2e4d6e" stroke-width="0.95"/>
<circle cx="397.80" cy="279.50" r="2.15" fill="#7ab5e8" stroke="#2e4d6e" stroke-width="0.95"/>
<circle cx="402.40" cy="274.80" r="2.15" fill="#7ab5e8" stroke="#2e4d6e" stroke-width="0.95"/>
<circle cx="406.10" cy="268.80" r="2.15" fill="#7ab5e8" stroke="#2e4d6e" stroke-width="0.95"/>
<circle cx="414.30" cy="273.80" r="2.15" fill="#7ab5e8" stroke="#2e4d6e" stroke-width="0.95"/>
<circle cx="417.00" cy="271.70" r="2.15" fill="#7ab5e8" stroke="#2e4d6e" stroke-width="0.95"/>
<circle cx="420.30" cy="272.00" r="2.15" fill="#7ab5e8" stroke="#2e4d6e" stroke-width="0.95"/>
<circle cx="420.30" cy="275.80" r="2.15" fill="#7ab5e8" stroke="#2e4d6e" stroke-width="0.95"/>
<circle cx="418.90" cy="261.10" r="2.15" fill="#7ab5e8" stroke="#2e4d6e" stroke-width="0.95"/>
<circle cx="423.80" cy="266.50" r="2.15" fill="#7ab5e8" stroke="#2e4d6e" stroke-width="0.95"/>
<circle cx="426.40" cy="227.30" r="2.15" fill="#7ab5e8" stroke="#2e4d6e" stroke-width="0.95"/>
<circle cx="433.60" cy="233.30" r="2.15" fill="#7ab5e8" stroke="#2e4d6e" stroke-width="0.95"/>
<circle cx="436.70" cy="230.80" r="2.15" fill="#7ab5e8" stroke="#2e4d6e" stroke-width="0.95"/>
<circle cx="437.70" cy="232.00" r="2.15" fill="#7ab5e8" stroke="#2e4d6e" stroke-width="0.95"/>
<circle cx="433.20" cy="240.10" r="2.15" fill="#7ab5e8" stroke="#2e4d6e" stroke-width="0.95"/>
<circle cx="445.60" cy="223.30" r="2.15" fill="#7ab5e8" stroke="#2e4d6e" stroke-width="0.95"/>
<circle cx="439.20" cy="248.00" r="2.15" fill="#7ab5e8" stroke="#2e4d6e" stroke-width="0.95"/>
<circle cx="438.00" cy="250.50" r="2.15" fill="#7ab5e8" stroke="#2e4d6e" stroke-width="0.95"/>
<circle cx="442.30" cy="259.60" r="2.15" fill="#7ab5e8" stroke="#2e4d6e" stroke-width="0.95"/>
<circle cx="516.00" cy="203.20" r="2.15" fill="#e8000a" stroke="#7a0000" stroke-width="0.95"/>
<circle cx="526.00" cy="202.10" r="2.15" fill="#e8000a" stroke="#7a0000" stroke-width="0.95"/>
<circle cx="529.20" cy="200.40" r="2.15" fill="#e8000a" stroke="#7a0000" stroke-width="0.95"/>
<circle cx="528.10" cy="203.50" r="2.15" fill="#e8000a" stroke="#7a0000" stroke-width="0.95"/>
<circle cx="527.50" cy="206.00" r="2.15" fill="#e8000a" stroke="#7a0000" stroke-width="0.95"/>
<circle cx="532.70" cy="210.90" r="2.15" fill="#e8000a" stroke="#7a0000" stroke-width="0.95"/>
<circle cx="538.80" cy="200.90" r="2.15" fill="#e8000a" stroke="#7a0000" stroke-width="0.95"/>
<circle cx="537.90" cy="204.40" r="2.15" fill="#e8000a" stroke="#7a0000" stroke-width="0.95"/>
<circle cx="547.90" cy="197.00" r="2.15" fill="#e8000a" stroke="#7a0000" stroke-width="0.95"/>
<circle cx="553.70" cy="195.00" r="2.15" fill="#e8000a" stroke="#7a0000" stroke-width="0.95"/>
<circle cx="554.70" cy="190.30" r="2.15" fill="#e8000a" stroke="#7a0000" stroke-width="0.95"/>
<circle cx="557.80" cy="187.50" r="2.15" fill="#e8000a" stroke="#7a0000" stroke-width="0.95"/>
<circle cx="558.40" cy="193.60" r="2.15" fill="#e8000a" stroke="#7a0000" stroke-width="0.95"/>
<circle cx="562.70" cy="186.20" r="2.15" fill="#e8000a" stroke="#7a0000" stroke-width="0.95"/>
</g>
<rect x="391.2" y="179.9" width="178.20" height="109.60" fill="none" stroke="#141414" stroke-width="1.5"/>
<line x1="423.34000000000003" y1="289.5" x2="423.34000000000003" y2="291.70" stroke="#141414" stroke-width="1.3"/>
<text x="423.34" y="301.80" font-size="8.3" fill="#2e2e2e" stroke="#2e2e2e" stroke-width="0.22" text-anchor="middle">-2</text>
<line x1="465.0" y1="289.5" x2="465.0" y2="291.70" stroke="#141414" stroke-width="1.3"/>
<text x="465.00" y="301.80" font-size="8.3" fill="#2e2e2e" stroke="#2e2e2e" stroke-width="0.22" text-anchor="middle">0</text>
<line x1="506.65999999999997" y1="289.5" x2="506.65999999999997" y2="291.70" stroke="#141414" stroke-width="1.3"/>
<text x="506.66" y="301.80" font-size="8.3" fill="#2e2e2e" stroke="#2e2e2e" stroke-width="0.22" text-anchor="middle">2</text>
<line x1="548.3199999999999" y1="289.5" x2="548.3199999999999" y2="291.70" stroke="#141414" stroke-width="1.3"/>
<text x="548.32" y="301.80" font-size="8.3" fill="#2e2e2e" stroke="#2e2e2e" stroke-width="0.22" text-anchor="middle">4</text>
<line x1="389.00" y1="273.4" x2="391.2" y2="273.4" stroke="#141414" stroke-width="1.3"/>
<text transform="translate(387.00,276.50) scale(1.0,1)" font-size="8.3" fill="#2e2e2e" stroke="#2e2e2e" stroke-width="0.22" text-anchor="end">-4</text>
<line x1="389.00" y1="247.9" x2="391.2" y2="247.9" stroke="#141414" stroke-width="1.3"/>
<text transform="translate(387.00,251.00) scale(1.0,1)" font-size="8.3" fill="#2e2e2e" stroke="#2e2e2e" stroke-width="0.22" text-anchor="end">-2</text>
<line x1="389.00" y1="222.4" x2="391.2" y2="222.4" stroke="#141414" stroke-width="1.3"/>
<text transform="translate(387.00,225.50) scale(1.0,1)" font-size="8.3" fill="#2e2e2e" stroke="#2e2e2e" stroke-width="0.22" text-anchor="end">0</text>
<line x1="389.00" y1="196.9" x2="391.2" y2="196.9" stroke="#141414" stroke-width="1.3"/>
<text transform="translate(387.00,200.00) scale(1.0,1)" font-size="8.3" fill="#2e2e2e" stroke="#2e2e2e" stroke-width="0.22" text-anchor="end">2</text>
<text transform="translate(450.70,314.70) scale(1.0410,1)" font-size="12" fill="#111" stroke="#111" stroke-width="0.28" text-anchor="start"><tspan>log(c</tspan><tspan dy="3.36" font-size="7.92">T, Cd</tspan><tspan dy="-3.36">)</tspan></text>
<text transform="translate(373.40,262.30) rotate(-90) scale(1.0550,1)" x="0" y="0" font-size="12" fill="#111" stroke="#111" stroke-width="0.28" text-anchor="start"><tspan>log(c</tspan><tspan dy="3.36" font-size="7.92">DGT, Cd</tspan><tspan dy="-3.36">)</tspan></text>
<circle cx="492.10" cy="269.70" r="1.9" fill="#7ab5e8" stroke="#2e4d6e" stroke-width="0.95"/>
<circle cx="492.10" cy="280.10" r="1.9" fill="#e8000a" stroke="#7a0000" stroke-width="0.95"/>
<text transform="translate(500.00,272.40) scale(1.04,1)" font-size="8.5" fill="#222" stroke="#222" stroke-width="0.22">NM sites,</text>
<text transform="translate(538.40,272.40) scale(1.04,1)" font-size="8.5" font-weight="bold" fill="#111" stroke="#111" stroke-width="0.1">ρ=0.82</text>
<text transform="translate(500.00,283.00) scale(1.04,1)" font-size="8.5" fill="#222" stroke="#222" stroke-width="0.22">M sites,</text>
<text transform="translate(538.40,283.00) scale(1.04,1)" font-size="8.5" font-weight="bold" fill="#111" stroke="#111" stroke-width="0.1">ρ=0.78</text>
<clipPath id="cB4"><rect x="613.70" y="180.60" width="177.00" height="108.20"/></clipPath>
<g clip-path="url(#cB4)">
<line x1="613.00" y1="278.60" x2="790.50" y2="220.40" stroke="#97eaee" stroke-width="1.4"/>
<line x1="613.00" y1="199.50" x2="790.50" y2="203.40" stroke="#f5a277" stroke-width="1.4"/>
<line x1="613.00" y1="211.30" x2="760.00" y2="295.20" stroke="#4d6fe3" stroke-width="1.4"/>
<line x1="630.00" y1="296.50" x2="792.00" y2="181.00" stroke="#7d1a1c" stroke-width="1.4"/>
<circle cx="621.20" cy="277.00" r="2.15" fill="#8aeef2" stroke="#2a7575" stroke-width="0.95"/>
<circle cx="621.60" cy="279.50" r="2.15" fill="#8aeef2" stroke="#2a7575" stroke-width="0.95"/>
<circle cx="626.20" cy="274.80" r="2.15" fill="#8aeef2" stroke="#2a7575" stroke-width="0.95"/>
<circle cx="629.90" cy="268.80" r="2.15" fill="#8aeef2" stroke="#2a7575" stroke-width="0.95"/>
<circle cx="638.10" cy="273.80" r="2.15" fill="#8aeef2" stroke="#2a7575" stroke-width="0.95"/>
<circle cx="640.80" cy="271.70" r="2.15" fill="#8aeef2" stroke="#2a7575" stroke-width="0.95"/>
<circle cx="644.10" cy="272.00" r="2.15" fill="#8aeef2" stroke="#2a7575" stroke-width="0.95"/>
<circle cx="644.10" cy="275.80" r="2.15" fill="#8aeef2" stroke="#2a7575" stroke-width="0.95"/>
<circle cx="642.70" cy="261.10" r="2.15" fill="#8aeef2" stroke="#2a7575" stroke-width="0.95"/>
<circle cx="647.60" cy="266.50" r="2.15" fill="#8aeef2" stroke="#2a7575" stroke-width="0.95"/>
<circle cx="650.20" cy="227.30" r="2.15" fill="#3d5ce0" stroke="#1a2c85" stroke-width="0.95"/>
<circle cx="657.40" cy="233.30" r="2.15" fill="#3d5ce0" stroke="#1a2c85" stroke-width="0.95"/>
<circle cx="660.50" cy="230.80" r="2.15" fill="#3d5ce0" stroke="#1a2c85" stroke-width="0.95"/>
<circle cx="661.50" cy="232.00" r="2.15" fill="#3d5ce0" stroke="#1a2c85" stroke-width="0.95"/>
<circle cx="657.00" cy="240.10" r="2.15" fill="#3d5ce0" stroke="#1a2c85" stroke-width="0.95"/>
<circle cx="669.40" cy="223.30" r="2.15" fill="#3d5ce0" stroke="#1a2c85" stroke-width="0.95"/>
<circle cx="663.00" cy="248.00" r="2.15" fill="#3d5ce0" stroke="#1a2c85" stroke-width="0.95"/>
<circle cx="661.80" cy="250.50" r="2.15" fill="#3d5ce0" stroke="#1a2c85" stroke-width="0.95"/>
<circle cx="666.10" cy="259.60" r="2.15" fill="#3d5ce0" stroke="#1a2c85" stroke-width="0.95"/>
<circle cx="739.80" cy="203.20" r="2.15" fill="#f0874f" stroke="#7a3412" stroke-width="0.95"/>
<circle cx="749.80" cy="202.10" r="2.15" fill="#f0874f" stroke="#7a3412" stroke-width="0.95"/>
<circle cx="753.00" cy="200.40" r="2.15" fill="#f0874f" stroke="#7a3412" stroke-width="0.95"/>
<circle cx="751.90" cy="203.50" r="2.15" fill="#f0874f" stroke="#7a3412" stroke-width="0.95"/>
<circle cx="751.30" cy="206.00" r="2.15" fill="#f0874f" stroke="#7a3412" stroke-width="0.95"/>
<circle cx="756.50" cy="210.90" r="2.15" fill="#7c1416" stroke="#3a0606" stroke-width="0.95"/>
<circle cx="762.60" cy="200.90" r="2.15" fill="#7c1416" stroke="#3a0606" stroke-width="0.95"/>
<circle cx="761.70" cy="204.40" r="2.15" fill="#7c1416" stroke="#3a0606" stroke-width="0.95"/>
<circle cx="771.70" cy="197.00" r="2.15" fill="#7c1416" stroke="#3a0606" stroke-width="0.95"/>
<circle cx="777.50" cy="195.00" r="2.15" fill="#7c1416" stroke="#3a0606" stroke-width="0.95"/>
<circle cx="778.50" cy="190.30" r="2.15" fill="#7c1416" stroke="#3a0606" stroke-width="0.95"/>
<circle cx="781.60" cy="187.50" r="2.15" fill="#7c1416" stroke="#3a0606" stroke-width="0.95"/>
<circle cx="782.20" cy="193.60" r="2.15" fill="#7c1416" stroke="#3a0606" stroke-width="0.95"/>
<circle cx="786.50" cy="186.20" r="2.15" fill="#7c1416" stroke="#3a0606" stroke-width="0.95"/>
</g>
<rect x="613.0" y="179.9" width="178.40" height="109.60" fill="none" stroke="#141414" stroke-width="1.5"/>
<line x1="646.24" y1="289.5" x2="646.24" y2="291.70" stroke="#141414" stroke-width="1.3"/>
<text x="646.24" y="301.80" font-size="8.3" fill="#2e2e2e" stroke="#2e2e2e" stroke-width="0.22" text-anchor="middle">-2</text>
<line x1="687.9" y1="289.5" x2="687.9" y2="291.70" stroke="#141414" stroke-width="1.3"/>
<text x="687.90" y="301.80" font-size="8.3" fill="#2e2e2e" stroke="#2e2e2e" stroke-width="0.22" text-anchor="middle">0</text>
<line x1="729.56" y1="289.5" x2="729.56" y2="291.70" stroke="#141414" stroke-width="1.3"/>
<text x="729.56" y="301.80" font-size="8.3" fill="#2e2e2e" stroke="#2e2e2e" stroke-width="0.22" text-anchor="middle">2</text>
<line x1="771.22" y1="289.5" x2="771.22" y2="291.70" stroke="#141414" stroke-width="1.3"/>
<text x="771.22" y="301.80" font-size="8.3" fill="#2e2e2e" stroke="#2e2e2e" stroke-width="0.22" text-anchor="middle">4</text>
<line x1="610.80" y1="273.4" x2="613.0" y2="273.4" stroke="#141414" stroke-width="1.3"/>
<text transform="translate(608.80,276.50) scale(1.0,1)" font-size="8.3" fill="#2e2e2e" stroke="#2e2e2e" stroke-width="0.22" text-anchor="end">-4</text>
<line x1="610.80" y1="247.9" x2="613.0" y2="247.9" stroke="#141414" stroke-width="1.3"/>
<text transform="translate(608.80,251.00) scale(1.0,1)" font-size="8.3" fill="#2e2e2e" stroke="#2e2e2e" stroke-width="0.22" text-anchor="end">-2</text>
<line x1="610.80" y1="222.4" x2="613.0" y2="222.4" stroke="#141414" stroke-width="1.3"/>
<text transform="translate(608.80,225.50) scale(1.0,1)" font-size="8.3" fill="#2e2e2e" stroke="#2e2e2e" stroke-width="0.22" text-anchor="end">0</text>
<line x1="610.80" y1="196.9" x2="613.0" y2="196.9" stroke="#141414" stroke-width="1.3"/>
<text transform="translate(608.80,200.00) scale(1.0,1)" font-size="8.3" fill="#2e2e2e" stroke="#2e2e2e" stroke-width="0.22" text-anchor="end">2</text>
<text transform="translate(676.40,314.70) scale(1.0470,1)" font-size="12" fill="#111" stroke="#111" stroke-width="0.28" text-anchor="start"><tspan>log(c</tspan><tspan dy="3.36" font-size="7.92">T, Cd</tspan><tspan dy="-3.36">)</tspan></text>
<text transform="translate(590.20,260.80) rotate(-90) scale(1.0350,1)" x="0" y="0" font-size="12" fill="#111" stroke="#111" stroke-width="0.28" text-anchor="start"><tspan>log(c</tspan><tspan dy="3.36" font-size="7.92">DGT, Cd</tspan><tspan dy="-3.36">)</tspan></text>
<circle cx="746.50" cy="250.00" r="1.9" fill="#3d5ce0" stroke="#1a2c85" stroke-width="0.95"/>
<text transform="translate(751.20,252.80) scale(1.04,1)" font-size="8.5" fill="#222" stroke="#222" stroke-width="0.22">ρ=-0.23</text>
<circle cx="746.50" cy="260.50" r="1.9" fill="#8aeef2" stroke="#2a7575" stroke-width="0.95"/>
<text transform="translate(751.20,263.30) scale(1.04,1)" font-size="8.5" fill="#222" stroke="#222" stroke-width="0.22">ρ=0.62</text>
<circle cx="746.50" cy="271.10" r="1.9" fill="#f0874f" stroke="#7a3412" stroke-width="0.95"/>
<text transform="translate(751.20,273.90) scale(1.04,1)" font-size="8.5" fill="#222" stroke="#222" stroke-width="0.22">ρ=0.04</text>
<circle cx="746.50" cy="281.80" r="1.9" fill="#7c1416" stroke="#3a0606" stroke-width="0.95"/>
<text transform="translate(751.20,284.60) scale(1.04,1)" font-size="8.5" font-weight="bold" fill="#111" stroke="#111" stroke-width="0.1">ρ=0.89</text>
</svg>
</body></html>
